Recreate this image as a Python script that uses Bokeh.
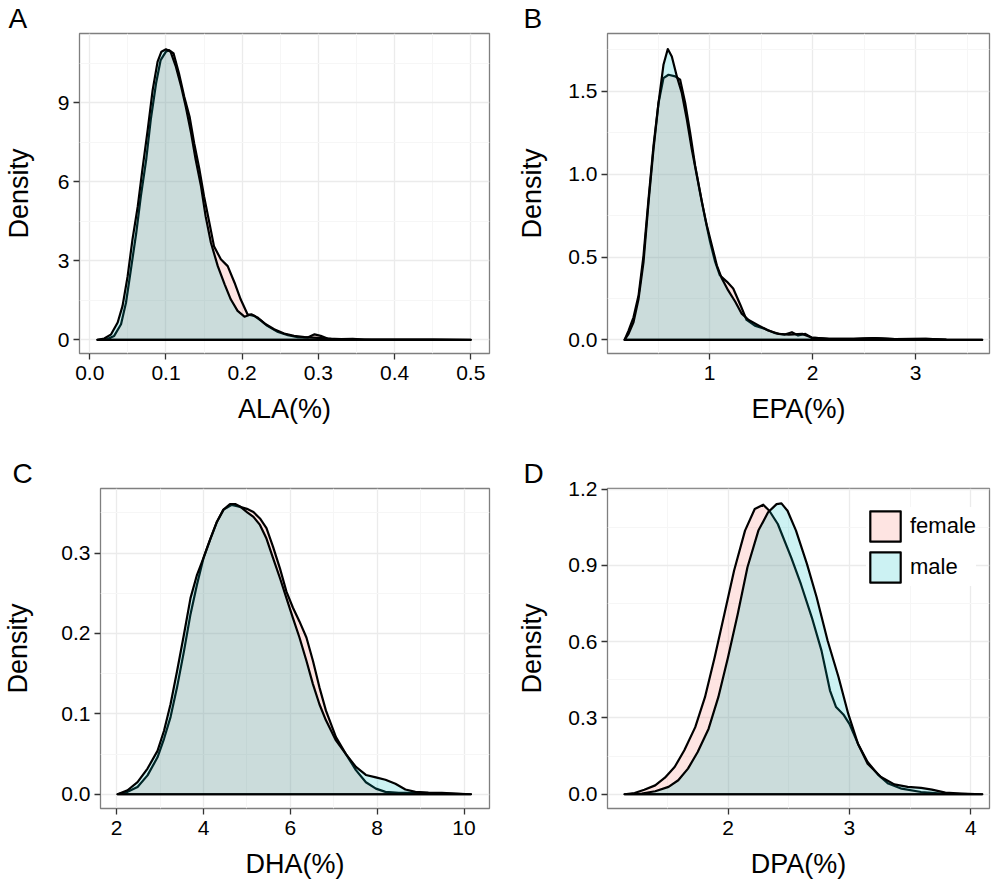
from bokeh.plotting import figure
from bokeh.layouts import column, row
from bokeh.models import FixedTicker, Range1d, Legend, LegendItem, PrintfTickFormatter
from bokeh.embed import file_html
from bokeh.resources import INLINE

FONT = "Liberation Sans"
FEMALE_COLOR = "#F8766D"
MALE_COLOR = "#00BFC4"

# ---------------- Panel A: ALA(%) ----------------
ala_female_x = [0.010, 0.023, 0.032, 0.041, 0.0475, 0.054, 0.061, 0.067, 0.074, 0.080, 0.087, 0.093, 0.100,
                0.104, 0.110, 0.117, 0.124, 0.131, 0.137, 0.144, 0.150, 0.157, 0.163, 0.172, 0.181, 0.190,
                0.198, 0.207, 0.216, 0.225, 0.233, 0.247, 0.260, 0.273, 0.286, 0.295, 0.303, 0.312, 0.330,
                0.345, 0.360, 0.400, 0.450, 0.500]
ala_female_y = [0, 0.03, 0.15, 0.59, 1.41, 2.68, 4.07, 5.45, 6.84, 8.36, 9.75, 10.63, 10.95,
                11.01, 10.88, 10.13, 9.24, 8.48, 7.47, 6.46, 5.45, 4.44, 3.56, 3.06, 2.80, 2.17,
                1.54, 0.97, 0.91, 0.72, 0.53, 0.30, 0.18, 0.10, 0.09, 0.21, 0.15, 0.05, 0.03,
                0.04, 0.01, 0.01, 0.005, 0]
ala_male_x = [0.010, 0.019, 0.028, 0.0366, 0.043, 0.0497, 0.056, 0.063, 0.069, 0.076, 0.0825, 0.089, 0.094,
              0.100, 0.106, 0.113, 0.120, 0.126, 0.133, 0.139, 0.146, 0.152, 0.159, 0.168, 0.177, 0.185,
              0.194, 0.203, 0.212, 0.220, 0.231, 0.242, 0.255, 0.268, 0.282, 0.299, 0.317, 0.340, 0.370,
              0.400, 0.450, 0.500]
ala_male_y = [0, 0.05, 0.21, 0.66, 1.29, 2.42, 3.81, 5.08, 6.46, 7.98, 9.49, 10.57, 10.95,
              11.04, 10.95, 10.38, 9.62, 8.86, 7.85, 6.84, 5.83, 4.70, 3.69, 2.80, 2.11, 1.54,
              1.10, 0.88, 0.97, 0.85, 0.59, 0.40, 0.24, 0.15, 0.10, 0.08, 0.04, 0.02, 0.01,
              0.01, 0.005, 0]
ala_xticks = [0.0, 0.1, 0.2, 0.3, 0.4, 0.5]
ala_xminor = [0.05, 0.15, 0.25, 0.35, 0.45]
ala_yticks = [0, 3, 6, 9]
ala_yminor = [1.5, 4.5, 7.5, 10.5]

# ---------------- Panel B: EPA(%) ----------------
epa_female_x = [0.175, 0.214, 0.262, 0.311, 0.359, 0.408, 0.456, 0.505, 0.553, 0.602, 0.667, 0.715, 0.764,
                0.812, 0.861, 0.909, 0.958, 1.006, 1.055, 1.10, 1.17, 1.23, 1.30, 1.36, 1.44, 1.54, 1.64,
                1.73, 1.80, 1.86, 1.93, 1.99, 2.16, 2.40, 2.60, 2.80, 3.10, 3.30, 3.647]
epa_female_y = [0, 0.056, 0.136, 0.267, 0.507, 0.85, 1.17, 1.43, 1.58, 1.60, 1.59, 1.57, 1.43,
                1.25, 1.05, 0.89, 0.73, 0.59, 0.47, 0.39, 0.35, 0.31, 0.21, 0.12, 0.086, 0.066, 0.04,
                0.032, 0.046, 0.026, 0.036, 0.014, 0.006, 0.006, 0.01, 0.004, 0.006, 0.002, 0]
epa_male_x = [0.175, 0.214, 0.262, 0.311, 0.359, 0.408, 0.456, 0.505, 0.553, 0.595, 0.634, 0.683, 0.731,
              0.780, 0.828, 0.877, 0.926, 0.974, 1.023, 1.071, 1.12, 1.18, 1.25, 1.31, 1.38, 1.48, 1.57,
              1.67, 1.77, 1.90, 1.99, 2.16, 2.40, 2.60, 2.80, 3.10, 3.30, 3.647]
epa_male_y = [0, 0.036, 0.106, 0.247, 0.467, 0.83, 1.15, 1.43, 1.66, 1.755, 1.71, 1.59, 1.49,
              1.33, 1.15, 0.99, 0.83, 0.69, 0.57, 0.45, 0.37, 0.30, 0.23, 0.16, 0.12, 0.086, 0.056,
              0.036, 0.032, 0.036, 0.014, 0.006, 0.006, 0.01, 0.004, 0.006, 0.002, 0]
epa_xticks = [1, 2, 3]
epa_xminor = [0.5, 1.5, 2.5, 3.5]
epa_yticks = [0.0, 0.5, 1.0, 1.5]
epa_yminor = [0.25, 0.75, 1.25, 1.75]

# ---------------- Panel C: DHA(%) ----------------
dha_female_x = [2.02, 2.25, 2.48, 2.71, 2.94, 3.09, 3.24, 3.39, 3.55, 3.70, 3.85, 4.00, 4.16, 4.31, 4.46,
                4.65, 4.80, 5.00, 5.15, 5.30, 5.45, 5.60, 5.76, 5.91, 6.06, 6.21, 6.37, 6.52, 6.67, 6.82,
                7.05, 7.28, 7.51, 7.74, 7.97, 8.19, 8.50, 8.88, 9.41, 10.16]
dha_female_y = [0, 0.003, 0.009, 0.0235, 0.046, 0.069, 0.096, 0.133, 0.178, 0.224, 0.261, 0.294, 0.318, 0.339, 0.354,
                0.360, 0.358, 0.355, 0.351, 0.343, 0.331, 0.308, 0.281, 0.252, 0.232, 0.215, 0.195, 0.166, 0.133, 0.104,
                0.071, 0.050, 0.030, 0.015, 0.007, 0.003, 0.0017, 0.0017, 0.001, 0]
dha_male_x = [2.02, 2.25, 2.48, 2.71, 2.94, 3.09, 3.24, 3.39, 3.55, 3.70, 3.85, 4.00, 4.16, 4.31, 4.46,
              4.61, 4.73, 4.84, 5.00, 5.15, 5.30, 5.45, 5.60, 5.76, 5.91, 6.06, 6.21, 6.37, 6.52, 6.67,
              6.82, 7.05, 7.28, 7.51, 7.74, 7.97, 8.19, 8.42, 8.65, 8.88, 9.18, 9.49, 9.80, 10.16]
dha_male_y = [0, 0.005, 0.015, 0.032, 0.054, 0.079, 0.112, 0.153, 0.199, 0.244, 0.273, 0.294, 0.318, 0.339, 0.354,
              0.361, 0.361, 0.358, 0.351, 0.345, 0.335, 0.318, 0.294, 0.269, 0.244, 0.219, 0.195, 0.166, 0.137, 0.112,
              0.092, 0.067, 0.050, 0.034, 0.024, 0.021, 0.018, 0.013, 0.006, 0.003, 0.002, 0.0017, 0.0008, 0]
dha_xticks = [2, 4, 6, 8, 10]
dha_xminor = [3, 5, 7, 9]
dha_yticks = [0.0, 0.1, 0.2, 0.3]
dha_yminor = [0.05, 0.15, 0.25, 0.35]

# ---------------- Panel D: DPA(%) ----------------
dpa_female_x = [1.148, 1.23, 1.31, 1.40, 1.48, 1.56, 1.64, 1.73, 1.81, 1.89, 1.97, 2.05, 2.14, 2.22, 2.29,
                2.34, 2.41, 2.52, 2.60, 2.69, 2.77, 2.84, 2.89, 2.95, 3.00, 3.07, 3.15, 3.24, 3.32, 3.43,
                3.59, 3.76, 4.094]
dpa_female_y = [0, 0.005, 0.018, 0.035, 0.065, 0.107, 0.173, 0.264, 0.382, 0.539, 0.709, 0.880, 1.037, 1.122, 1.139,
                1.115, 1.063, 0.932, 0.827, 0.696, 0.565, 0.408, 0.343, 0.314, 0.277, 0.199, 0.127, 0.075, 0.042, 0.022,
                0.009, 0.003, 0]
dpa_male_x = [1.148, 1.29, 1.40, 1.51, 1.59, 1.67, 1.75, 1.84, 1.92, 2.00, 2.08, 2.16, 2.25, 2.33, 2.40,
              2.44, 2.49, 2.56, 2.65, 2.73, 2.82, 2.91, 2.99, 3.07, 3.15, 3.26, 3.37, 3.48, 3.59, 3.68,
              3.79, 3.92, 4.094]
dpa_male_y = [0, 0.003, 0.012, 0.029, 0.055, 0.101, 0.166, 0.258, 0.382, 0.539, 0.709, 0.893, 1.037, 1.109, 1.141,
              1.144, 1.115, 1.037, 0.906, 0.775, 0.605, 0.461, 0.317, 0.199, 0.120, 0.068, 0.039, 0.029, 0.025, 0.018,
              0.0065, 0.003, 0]
dpa_xticks = [2, 3, 4]
dpa_xminor = [1.5, 2.5, 3.5]
dpa_yticks = [0.0, 0.3, 0.6, 0.9, 1.2]
dpa_yminor = [0.15, 0.45, 0.75, 1.05]

legend_labels = ["female", "male"]


def make_panel(letter, xlabel, fx, fy, mx, my, xr, yr, xt, xm, yt, ym, xfmt, yfmt,
               width, height, borders, letter_offset, ylab_standoff, legend=False):
    left, right, top, bottom = borders
    p = figure(width=width, height=height, x_range=Range1d(*xr), y_range=Range1d(*yr),
               output_backend="svg", toolbar_location=None,
               min_border_left=left, min_border_right=right,
               min_border_top=top, min_border_bottom=bottom)
    p.background_fill_color = "white"
    p.border_fill_color = "white"
    p.outline_line_color = "#7f7f7f"
    p.outline_line_width = 1.3

    # title = panel letter
    p.title.text = letter
    p.title.text_font = FONT
    p.title.text_font_size = "28px"
    p.title.text_font_style = "normal"
    p.title.text_color = "black"
    p.title.align = "left"
    p.title.offset = letter_offset
    p.title.standoff = 0

    xtk = FixedTicker(ticks=xt, minor_ticks=xm)
    ytk = FixedTicker(ticks=yt, minor_ticks=ym)
    p.xaxis.ticker = xtk
    p.yaxis.ticker = ytk
    p.xgrid.ticker = xtk
    p.ygrid.ticker = ytk
    p.xaxis.formatter = PrintfTickFormatter(format=xfmt)
    p.yaxis.formatter = PrintfTickFormatter(format=yfmt)

    for g in (p.xgrid, p.ygrid):
        g.grid_line_color = "#EBEBEB"
        g.grid_line_width = 1.3
        g.minor_grid_line_color = "#F6F6F6"
        g.minor_grid_line_width = 1.0

    for ax in (p.xaxis, p.yaxis):
        ax.axis_line_color = None
        ax.major_tick_line_color = "#333333"
        ax.major_tick_line_width = 1.3
        ax.major_tick_out = 6
        ax.major_tick_in = 0
        ax.minor_tick_line_color = None
        ax.major_label_text_font = FONT
        ax.major_label_text_font_size = "21px"
        ax.major_label_text_color = "black"
        ax.axis_label_text_font = FONT
        ax.axis_label_text_font_size = "27px"
        ax.axis_label_text_font_style = "normal"
        ax.axis_label_text_color = "black"
    p.xaxis.axis_label = xlabel
    p.yaxis.axis_label = "Density"
    p.xaxis.major_label_standoff = 6
    p.xaxis.axis_label_standoff = 11
    p.yaxis.major_label_standoff = 4
    p.yaxis.axis_label_standoff = ylab_standoff

    rf = p.patch(fx, fy, fill_color=FEMALE_COLOR, fill_alpha=0.2,
                 line_color="black", line_width=2.2, line_join="round")
    rm = p.patch(mx, my, fill_color=MALE_COLOR, fill_alpha=0.2,
                 line_color="black", line_width=2.2, line_join="round")

    if legend:
        lg = Legend(items=[LegendItem(label=legend_labels[0], renderers=[rf]),
                           LegendItem(label=legend_labels[1], renderers=[rm])],
                    location=(259, 222))
        lg.glyph_width = 38
        lg.glyph_height = 38
        lg.spacing = 3
        lg.padding = 2
        lg.margin = 0
        lg.label_standoff = 6
        lg.label_text_font = FONT
        lg.label_text_font_size = "22px"
        lg.label_text_color = "black"
        lg.border_line_color = None
        lg.background_fill_color = "white"
        lg.background_fill_alpha = 1.0
        p.add_layout(lg)
    return p


pa = make_panel("A", "ALA(%)", ala_female_x, ala_female_y, ala_male_x, ala_male_y,
                (-0.0135, 0.5246), (-0.519, 11.64), ala_xticks, ala_xminor, ala_yticks, ala_yminor,
                "%.1f", "%d", 500, 444, (79, 11, 32, 91), -71, 21)
pb = make_panel("B", "EPA(%)", epa_female_x, epa_female_y, epa_male_x, epa_male_y,
                (0.0097, 3.718), (-0.0824, 1.849), epa_xticks, epa_xminor, epa_yticks, epa_yminor,
                "%d", "%.1f", 499, 444, (107, 10, 32, 91), -84, 18)
pc = make_panel("C", "DHA(%)", dha_female_x, dha_female_y, dha_male_x, dha_male_y,
                (1.627, 10.587), (-0.0177, 0.3803), dha_xticks, dha_xminor, dha_yticks, dha_yminor,
                "%d", "%.1f", 500, 444, (98, 11, 43, 80), -88, 25)
pd_ = make_panel("D", "DPA(%)", dpa_female_x, dpa_female_y, dpa_male_x, dpa_male_y,
                 (1.007, 4.154), (-0.056, 1.2026), dpa_xticks, dpa_xminor, dpa_yticks, dpa_yminor,
                 "%d", "%.1f", 499, 444, (107, 10, 44, 80), -84, 18, legend=True)

layout = column(row(pa, pb, spacing=0), row(pc, pd_, spacing=0), spacing=0)

with open("out.html", "w") as f:
    f.write(file_html(layout, INLINE))
